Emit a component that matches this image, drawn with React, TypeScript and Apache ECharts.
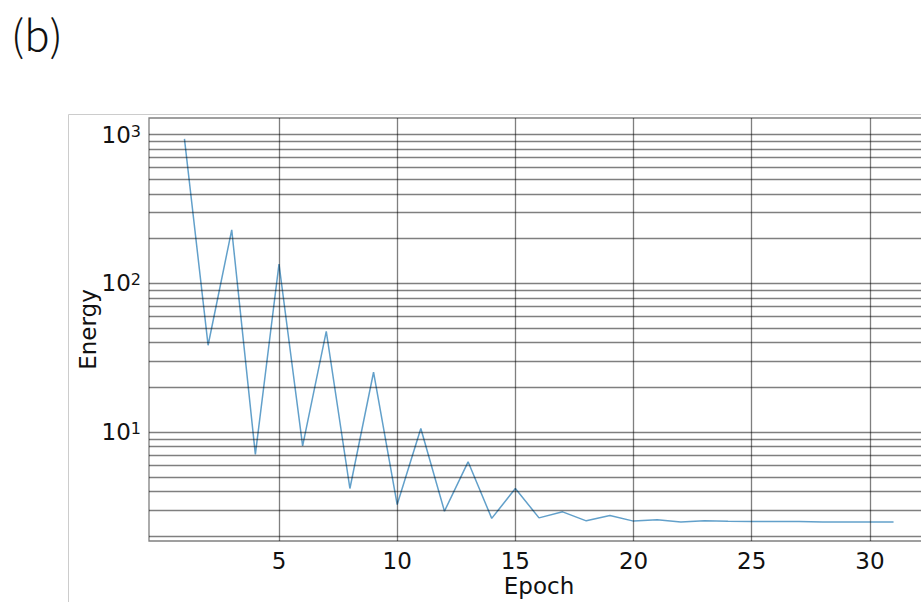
import React, { useEffect, useRef } from "react";
import * as echarts from "echarts";

const epochs = [1, 2, 3, 4, 5, 6, 7, 8, 9, 10, 11, 12, 13, 14, 15, 16, 17, 18, 19, 20, 21, 22, 23, 24, 25, 26, 27, 28, 29, 30, 31];
const energy = [936, 38.4, 229, 7.1, 135, 8.1, 47.6, 4.19, 25.3, 3.27, 10.6, 2.95, 6.33, 2.64, 4.19, 2.66, 2.92, 2.54, 2.76, 2.53, 2.58, 2.5, 2.54, 2.52, 2.51, 2.51, 2.51, 2.5, 2.5, 2.5, 2.5];
const yGridValues = [2, 3, 4, 5, 6, 7, 8, 9, 10, 20, 30, 40, 50, 60, 70, 80, 90, 100, 200, 300, 400, 500, 600, 700, 800, 900, 1000];
const xGridValues = [5, 10, 15, 20, 25, 30];
const panelLabel = "(b)";
const xName = "Epoch";
const yName = "Energy";

const FONT = "DejaVu Sans";

export default function App() {
  const ref = useRef<HTMLDivElement>(null);
  useEffect(() => {
    document.body.style.margin = "0";
    const chart = echarts.init(ref.current!, null, { renderer: "svg" });
    const gridLine = { color: "rgba(0,0,0,0.5)", width: 1.3, type: "solid" as const };
    chart.setOption({
      animation: false,
      backgroundColor: "#fff",
      grid: {
        left: 149,
        top: 118,
        width: 780,
        height: 423,
        outerBoundsMode: "none",
        containLabel: false,
        show: true,
        borderColor: "rgba(0,0,0,0.5)",
        borderWidth: 1.3,
        backgroundColor: "transparent",
      },
      graphic: [
        {
          type: "rect",
          shape: { x: 68.5, y: 114.5, width: 900, height: 600 },
          style: { fill: "none", stroke: "#cccccc", lineWidth: 1 },
          silent: true,
        },
        {
          type: "text",
          x: 11,
          y: 32,
          style: {
            text: panelLabel,
            fontSize: 42,
            fontFamily: "Noto Sans CJK JP",
            fontWeight: 300,
            fill: "#111",
            verticalAlign: "middle",
            align: "left",
          },
        },
      ],
      xAxis: {
        type: "value",
        min: -0.5,
        max: 32.5,
        name: xName,
        nameLocation: "middle",
        nameGap: 33,
        nameMoveOverlap: false,
        nameTextStyle: { fontSize: 23, lineHeight: 24, fontFamily: FONT, color: "#111" },
        axisLine: { show: false },
        axisTick: { show: false },
        splitLine: { show: false },
        axisLabel: {
          fontSize: 23,
          lineHeight: 23,
          fontFamily: FONT,
          color: "#111",
          margin: 8,
          formatter: (v: number) => (v > 0 && Math.abs(v % 5) < 1e-9 ? String(v) : ""),
        },
      },
      yAxis: {
        type: "log",
        logBase: 10,
        min: 1.86,
        max: 1291,
        name: yName,
        nameLocation: "middle",
        nameGap: 50,
        nameMoveOverlap: false,
        nameTextStyle: { fontSize: 23, fontFamily: FONT, color: "#111" },
        axisLine: { show: false },
        axisTick: { show: false },
        splitLine: { show: false },
        axisLabel: {
          fontSize: 23,
          fontFamily: FONT,
          color: "#111",
          margin: 8,
          formatter: (v: number) => {
            const l = Math.log10(v);
            const r = Math.round(l);
            if (Math.abs(l - r) < 1e-6) return "10{s|" + r + "}";
            return "";
          },
          rich: {
            s: { fontSize: 16, fontFamily: FONT, color: "#111", verticalAlign: "top" },
          },
        },
      },
      series: [
        {
          type: "line",
          z: 1,
          data: epochs.map((e, i) => [e, energy[i]]),
          symbol: "none",
          lineStyle: { opacity: 0 },
          silent: true,
          markLine: {
            silent: true,
            symbol: "none",
            animation: false,
            label: { show: false },
            lineStyle: gridLine,
            data: [
              ...yGridValues.map((v) => ({ yAxis: v })),
              ...xGridValues.map((v) => ({ xAxis: v })),
            ],
          },
        },
        {
          type: "line",
          z: 3,
          data: epochs.map((e, i) => [e, energy[i]]),
          symbol: "none",
          lineStyle: { color: "rgba(31,119,180,0.7)", width: 1.5 },
        },
      ],
    });
    return () => chart.dispose();
  }, []);
  return <div ref={ref} style={{ width: 921, height: 602 }} />;
}
